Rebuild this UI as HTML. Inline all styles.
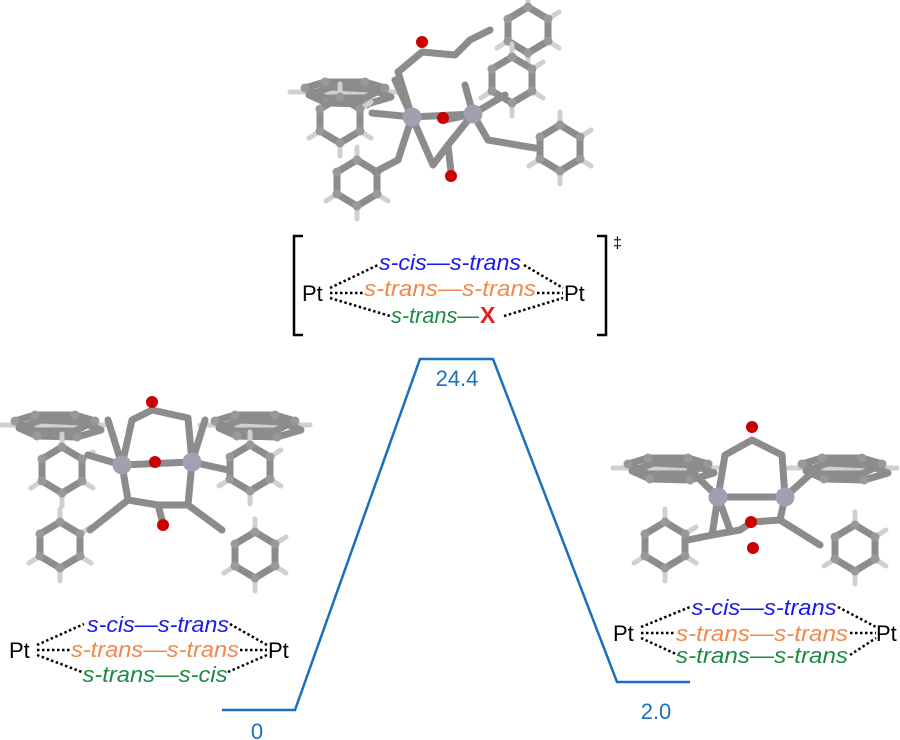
<!DOCTYPE html>
<html><head><meta charset="utf-8"><style>
html,body{margin:0;padding:0;background:#fff}
svg{display:block}
text{font-family:"Liberation Sans",Arial,sans-serif}
.it{font-style:italic;font-size:22px}
.b{fill:#1a1aee}.o{fill:#f2884a}.g{fill:#1e8a45}
.pt{font-size:22px;fill:#000}
.dot{stroke:#000;stroke-width:2.5;stroke-dasharray:2.5 2.5;fill:none}
.bond{stroke:#8c8c8c;stroke-width:7;stroke-linecap:round;stroke-linejoin:round;fill:none}
.hb{stroke:#d0d0d0;stroke-width:5;stroke-linecap:round}
</style></head><body>
<svg width="900" height="740" viewBox="0 0 900 740" xmlns="http://www.w3.org/2000/svg">
<defs>
<g id="ring">
<line class="hb" x1="0" y1="-23" x2="0" y2="-36"/><line class="hb" x1="20" y1="-11" x2="31" y2="-18"/><line class="hb" x1="20" y1="11" x2="31" y2="18"/><line class="hb" x1="0" y1="23" x2="0" y2="36"/><line class="hb" x1="-20" y1="11" x2="-31" y2="18"/>
<polygon class="bond" points="0,-23 20,-11 20,11 0,23 -20,11 -20,-11"/>
<g fill="#999"><circle cx="0" cy="-23" r="4.5"/><circle cx="20" cy="-11" r="4.5"/><circle cx="20" cy="11" r="4.5"/><circle cx="0" cy="23" r="4.5"/><circle cx="-20" cy="11" r="4.5"/><circle cx="-20" cy="-11" r="4.5"/></g>
</g>
<g id="flat">
<line class="hb" x1="-55" y1="0" x2="55" y2="0"/>
<polygon class="bond" points="-40,-4 -20,-10 20,-10 40,-4 20,6 -20,6"/>
<polygon class="bond" points="-36,3 -14,-5 26,-3 46,5 22,12 -18,11"/>
<g fill="#999"><circle cx="-40" cy="-4" r="4.5"/><circle cx="40" cy="-4" r="4.5"/><circle cx="-20" cy="-10" r="4.5"/><circle cx="20" cy="-10" r="4.5"/><circle cx="22" cy="12" r="4.5"/><circle cx="-18" cy="11" r="4.5"/></g>
</g>
</defs>

<!-- TS molecule -->
<g>
<use href="#ring" x="528" y="30"/>
<use href="#ring" x="512" y="80"/>
<use href="#flat" x="345" y="92"/>
<use href="#ring" x="340" y="120"/>
<use href="#ring" x="357" y="183"/>
<use href="#ring" x="560" y="148"/>
<path class="bond" d="M412 117 L473 114 M412 117 L398 72 L422 52 L455 55 L470 40 L490 30 M412 117 L372 113 M412 117 L398 160 L375 172 M412 117 L433 165 L448 145 L473 114 M473 114 L488 140 L535 148 M473 114 L505 95 M448 145 L451 172 M445 120 L473 114 M412 117 L395 80 M473 114 L465 85"/>
<circle cx="412" cy="117" r="9.5" fill="#a0a0b0"/><circle cx="473" cy="114" r="9.5" fill="#a0a0b0"/>
<circle cx="422" cy="42" r="6" fill="#c00"/><circle cx="443" cy="118" r="6" fill="#c00"/><circle cx="451" cy="176" r="6" fill="#c00"/>
</g>

<!-- left molecule -->
<g>
<use href="#flat" x="55" y="425"/>
<use href="#flat" x="255" y="425"/>
<use href="#ring" x="62" y="470"/>
<use href="#ring" x="250" y="468"/>
<use href="#ring" x="60" y="545"/>
<use href="#ring" x="255" y="555"/>
<path class="bond" d="M122 465 L192 462 M122 465 L132 420 L152 410 L188 418 L192 462 M122 465 L88 455 M192 462 L228 470 M122 465 L128 500 L158 505 L162 520 M192 462 L188 505 L158 505 M128 500 L90 530 M188 505 L222 530 M108 420 L122 465 M192 462 L205 420"/>
<circle cx="122" cy="465" r="9.5" fill="#a0a0b0"/><circle cx="192" cy="462" r="9.5" fill="#a0a0b0"/>
<circle cx="152" cy="402" r="6" fill="#c00"/><circle cx="155" cy="462" r="6" fill="#c00"/><circle cx="163" cy="525" r="6" fill="#c00"/>
</g>

<!-- right molecule -->
<g>
<use href="#flat" x="668" y="468"/>
<use href="#flat" x="842" y="468"/>
<use href="#ring" x="665" y="545"/>
<use href="#ring" x="855" y="548"/>
<path class="bond" d="M718 497 L785 497 M718 497 L725 455 L752 440 L782 455 L785 497 M718 497 L690 470 M785 497 L815 470 M718 497 L712 535 L740 530 L752 522 L780 520 L785 497 M712 535 L688 540 M780 520 L820 545 M718 497 L730 530"/>
<circle cx="718" cy="497" r="9.5" fill="#a0a0b0"/><circle cx="785" cy="497" r="9.5" fill="#a0a0b0"/>
<circle cx="752" cy="427" r="6" fill="#c00"/><circle cx="751" cy="522" r="6" fill="#c00"/><circle cx="753" cy="548" r="6" fill="#c00"/>
</g>

<!-- energy profile -->
<polyline points="222,710 295,710 420,359 493,359 617,682 690,682" fill="none" stroke="#1a6fc0" stroke-width="2.5"/>
<text x="457" y="386" font-size="22" fill="#1a6fc0" text-anchor="middle">24.4</text>
<text x="257" y="739" font-size="22" fill="#1a6fc0" text-anchor="middle">0</text>
<text x="656" y="719" font-size="22" fill="#1a6fc0" text-anchor="middle">2.0</text>

<!-- TS label -->
<path d="M303 236 L294 236 L294 335 L303 335 M597 236 L606 236 L606 335 L597 335" stroke="#000" stroke-width="2.5" fill="none"/>
<text x="613" y="248" font-size="16">‡</text>
<text x="302" y="301" class="pt">Pt</text>
<text x="564" y="301" class="pt">Pt</text>
<path class="dot" d="M330 288 L378 265 M330 293 L363 293 M330 298 L390 316 M524 265 L563 288 M537 293 L563 293 M504 316 L563 298"/>
<text x="450" y="270" class="it b" text-anchor="middle" textLength="142" lengthAdjust="spacingAndGlyphs">s-cis—s-trans</text>
<text x="450" y="296" class="it o" text-anchor="middle" textLength="172" lengthAdjust="spacingAndGlyphs">s-trans—s-trans</text>
<text x="391" y="323" class="it g" textLength="88" lengthAdjust="spacingAndGlyphs">s-trans—</text>
<text x="480" y="323" font-size="23" font-weight="bold" fill="#e02020">X</text>

<!-- left label -->
<text x="9" y="658" class="pt">Pt</text>
<text x="268" y="658" class="pt">Pt</text>
<path class="dot" d="M37 645 L84 624 M37 650 L70 650 M37 655 L82 672 M230 624 L267 645 M240 650 L267 650 M228 672 L267 655"/>
<text x="158" y="632" class="it b" text-anchor="middle" textLength="142" lengthAdjust="spacingAndGlyphs">s-cis—s-trans</text>
<text x="155" y="657" class="it o" text-anchor="middle" textLength="168" lengthAdjust="spacingAndGlyphs">s-trans—s-trans</text>
<text x="155" y="682" class="it g" text-anchor="middle" textLength="145" lengthAdjust="spacingAndGlyphs">s-trans—s-cis</text>

<!-- right label -->
<text x="613" y="641" class="pt">Pt</text>
<text x="876" y="641" class="pt">Pt</text>
<path class="dot" d="M641 627 L690 607 M641 633 L674 633 M641 638 L678 655 M838 607 L876 627 M850 633 L876 633 M850 655 L876 638"/>
<text x="764" y="615" class="it b" text-anchor="middle" textLength="145" lengthAdjust="spacingAndGlyphs">s-cis—s-trans</text>
<text x="762" y="641" class="it o" text-anchor="middle" textLength="172" lengthAdjust="spacingAndGlyphs">s-trans—s-trans</text>
<text x="762" y="663" class="it g" text-anchor="middle" textLength="172" lengthAdjust="spacingAndGlyphs">s-trans—s-trans</text>
</svg>
</body></html>
